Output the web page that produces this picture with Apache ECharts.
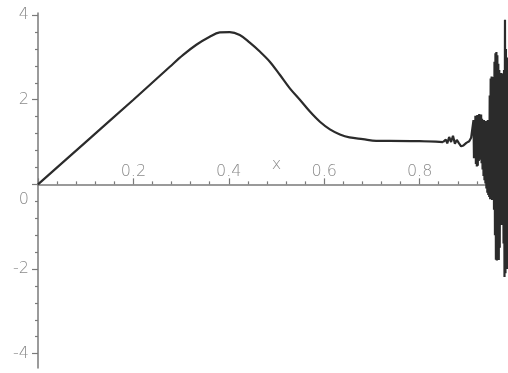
<!DOCTYPE html>
<html>
<head>
<meta charset="utf-8">
<script src="https://cdn.jsdelivr.net/npm/echarts@6/dist/echarts.min.js"></script>
<style>
html,body{margin:0;padding:0;background:#fff;}
#chart{width:508px;height:373px;}
</style>
</head>
<body>
<div id="chart"></div>
<script>
// smooth part of the curve
const xSmooth = [0, 0.1, 0.2, 0.2764, 0.3043, 0.332, 0.36, 0.381, 0.402, 0.423, 0.444, 0.465, 0.486, 0.507, 0.528, 0.549, 0.57, 0.591, 0.612, 0.633, 0.653, 0.681, 0.709, 0.737, 0.8, 0.849];
const ySmooth = [0, 1.0, 2.0, 2.78, 3.06, 3.30, 3.49, 3.59, 3.60, 3.53, 3.35, 3.14, 2.90, 2.59, 2.27, 2.0, 1.72, 1.48, 1.30, 1.18, 1.11, 1.07, 1.03, 1.03, 1.02, 1.0];
// small wiggle before the noise
const xWiggle = [0.849, 0.855, 0.858, 0.862, 0.866, 0.87, 0.874, 0.878, 0.882, 0.887, 0.892, 0.898, 0.904, 0.908];
const yWiggle = [1.0, 1.06, 0.97, 1.12, 1.0, 1.15, 0.96, 1.05, 0.98, 0.9, 0.92, 0.98, 1.02, 1.1];
// noisy tail
const xNoise = [0.912,0.913,0.914,0.915,0.916,0.917,0.918,0.919,0.920,0.921,0.922,0.923,0.924,0.925,0.926,0.927,0.928,0.929,0.930,0.931,0.932,0.933,0.934,0.935,0.936,0.937,0.938,0.939,0.940,0.941,0.942,0.943,0.944,0.945,0.946,0.947,0.948,0.949,0.950,0.951,0.952,0.953,0.954,0.955,0.956,0.957,0.958,0.959,0.960,0.961,0.962,0.963,0.964,0.965,0.966,0.967,0.968,0.969,0.970,0.971,0.972,0.973,0.974,0.975,0.976,0.977,0.978,0.979,0.980,0.981,0.982,0.983,0.984];
const yNoise = [1.10,1.52,0.62,1.48,0.70,1.62,0.48,1.60,0.42,1.64,0.44,1.58,0.55,1.66,0.62,1.60,0.58,1.65,0.50,1.55,0.35,1.50,0.20,1.52,0.10,1.48,0.02,1.50,-0.10,1.46,-0.20,1.52,-0.25,1.50,-0.30,2.10,-0.35,2.50,-0.30,2.55,-0.37,2.48,-0.36,2.54,-0.60,2.90,-1.20,3.10,-1.78,3.13,-1.80,3.05,-1.75,2.85,-1.79,2.70,-1.50,2.60,-0.95,2.63,-0.96,2.55,-0.90,2.62,-1.40,2.70,-2.19,3.89,-2.10,3.20,-1.90,3.00,-2.00];
// axis ticks
const xTickLabels = [0.2, 0.4, 0.6, 0.8];
const yMajorTicks = [-4, -2, 0, 2, 4];
const yMinorTicks = [-3.6, -3.2, -2.8, -2.4, -1.6, -1.2, -0.8, -0.4, 0.4, 0.8, 1.2, 1.6, 2.4, 2.8, 3.2, 3.6];

const Y_MIN = -4.34, Y_MAX = 4.05;
const GRID_TOP = 13, GRID_H = 355;
const zeroOffset = -(GRID_H * (0 - Y_MIN) / (Y_MAX - Y_MIN));

const smoothData = xSmooth.map((x, i) => [x, ySmooth[i]]);
const roughX = xWiggle.concat(xNoise);
const roughY = yWiggle.concat(yNoise);
const roughData = roughX.map((x, i) => [x, roughY[i]]);

const axisColor = '#7a7a7a';
const textColor = '#8a8a8a';
const font = '"DejaVu Sans", sans-serif';

const chart = echarts.init(document.getElementById('chart'), null, {renderer: 'canvas'});
chart.setOption({
  animation: false,
  backgroundColor: '#ffffff',
  grid: {left: 38, top: GRID_TOP, width: 477, height: GRID_H, outerBoundsMode: 'none', containLabel: false},
  xAxis: {
    type: 'value', min: 0, max: 1, interval: 0.2, position: 'bottom', offset: zeroOffset,
    name: 'x', nameLocation: 'middle', nameGap: -28, nameMoveOverlap: false,
    nameTextStyle: {color: textColor, fontSize: 16, fontFamily: font, fontWeight: 300},
    axisLine: {onZero: false, lineStyle: {color: axisColor, width: 1.5}},
    axisTick: {inside: true, length: 6, lineStyle: {color: axisColor, width: 1.2}},
    minorTick: {show: true, splitNumber: 5, length: 3, lineStyle: {color: axisColor, width: 1.2}},
    axisLabel: {
      inside: true, margin: 5, color: textColor, fontSize: 16, fontFamily: font, fontWeight: 300,
      formatter: v => xTickLabels.some(t => Math.abs(t - v) < 1e-9) ? String(v) : ''
    },
    splitLine: {show: false}
  },
  yAxis: [{
    type: 'value', min: Y_MIN, max: Y_MAX,
    axisLine: {onZero: false, lineStyle: {color: axisColor, width: 1.5}},
    axisTick: {customValues: yMajorTicks, length: 6, lineStyle: {color: axisColor, width: 1.2}},
    axisLabel: {
      customValues: yMajorTicks, margin: 9, color: textColor, fontSize: 16, fontFamily: font, fontWeight: 300,
      formatter: v => v === 0 ? '{z|0}' : String(v),
      rich: {z: {padding: [30, 0, 0, 0], color: textColor, fontSize: 16, fontFamily: font, fontWeight: 300}}
    },
    splitLine: {show: false}
  }, {
    type: 'value', min: Y_MIN, max: Y_MAX, position: 'left', offset: 0,
    axisLine: {show: false},
    axisTick: {customValues: yMinorTicks, length: 3, lineStyle: {color: axisColor, width: 1.2}},
    axisLabel: {show: false},
    splitLine: {show: false}
  }],
  series: [{
    type: 'line', data: smoothData, xAxisIndex: 0, yAxisIndex: 0,
    showSymbol: false, symbol: 'none', smooth: 0.35,
    lineStyle: {color: '#2b2b2b', width: 2.2}, z: 2
  }, {
    type: 'line', data: roughData, xAxisIndex: 0, yAxisIndex: 0,
    showSymbol: false, symbol: 'none', smooth: false, sampling: null,
    lineStyle: {color: '#2b2b2b', width: 2.2}, z: 2
  }]
});
</script>
</body>
</html>
